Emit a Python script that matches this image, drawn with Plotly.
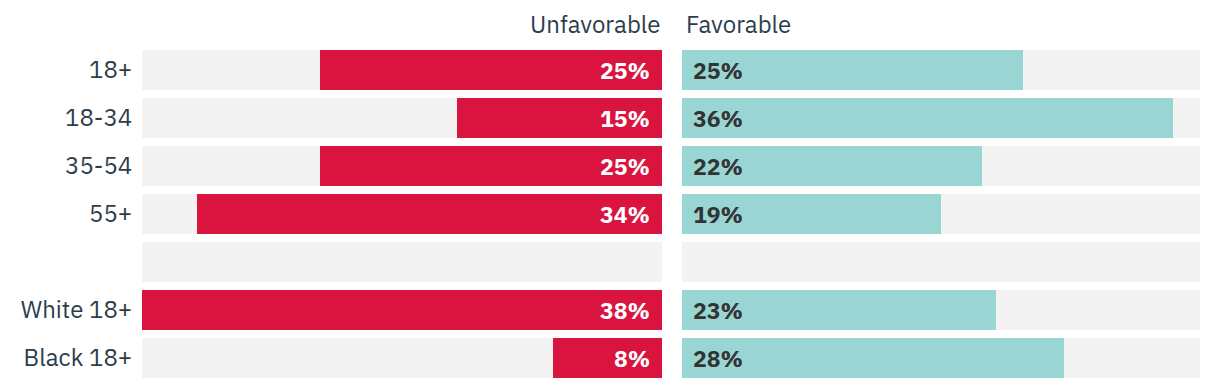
import plotly.graph_objects as go

categories = ["18+", "18-34", "35-54", "55+", "", "White 18+", "Black 18+"]
unfavorable = [25, 15, 25, 34, None, 38, 8]
favorable = [25, 36, 22, 19, None, 23, 28]
scale_max = 38

FONT = "IBM Plex Sans, Noto Sans, sans-serif"
RED = "#d8143f"
TEAL = "#98d5d3"
GREY = "#f3f3f3"
TEXT = "#2c3e4c"

ypos = list(range(len(categories)))
fig = go.Figure()

# background bars
for xa in ["x", "x2"]:
    fig.add_trace(go.Bar(y=ypos, x=[scale_max] * len(ypos), orientation="h",
                         marker=dict(color=GREY, line_width=0), width=40 / 48,
                         xaxis=xa, yaxis="y", hoverinfo="skip", showlegend=False))

fig.add_trace(go.Bar(y=ypos, x=unfavorable, orientation="h", width=40 / 48,
                     marker=dict(color=RED, line_width=0), xaxis="x", yaxis="y",
                     showlegend=False, name="Unfavorable"))
fig.add_trace(go.Bar(y=ypos, x=favorable, orientation="h", width=40 / 48,
                     marker=dict(color=TEAL, line_width=0), xaxis="x2", yaxis="y",
                     showlegend=False, name="Favorable"))

annotations = []
for y, u, f in zip(ypos, unfavorable, favorable):
    if u is not None:
        annotations.append(dict(x=0, y=y, xref="x", yref="y", text=f"<b>{u}%</b>",
                                xanchor="right", yanchor="middle", xshift=-10, showarrow=False,
                                font=dict(family=FONT, size=23, color="white")))
    if f is not None:
        annotations.append(dict(x=0, y=y, xref="x2", yref="y", text=f"<b>{f}%</b>",
                                xanchor="left", yanchor="middle", xshift=9, showarrow=False,
                                font=dict(family=FONT, size=23, color="#333333")))

annotations.append(dict(x=663 / 1220, y=1, xref="paper", yref="paper", text="Unfavorable",
                        xanchor="right", yanchor="bottom", yshift=4, showarrow=False,
                        font=dict(family=FONT, size=24, color=TEXT)))
annotations.append(dict(x=684 / 1220, y=1, xref="paper", yref="paper", text="Favorable",
                        xanchor="left", yanchor="bottom", yshift=4, showarrow=False,
                        font=dict(family=FONT, size=24, color=TEXT)))

fig.update_layout(
    width=1220, height=388,
    margin=dict(l=0, r=0, t=46, b=6),
    paper_bgcolor="white", plot_bgcolor="white",
    barmode="overlay", bargap=0,
    annotations=annotations,
    xaxis=dict(domain=[142 / 1220, 662 / 1220], range=[scale_max, 0], visible=False, fixedrange=True),
    xaxis2=dict(domain=[682 / 1220, 1200 / 1220], range=[0, scale_max], visible=False, fixedrange=True),
    yaxis=dict(range=[len(categories) - 0.5, -0.5], tickvals=ypos, ticktext=categories,
               showgrid=False, zeroline=False, showline=False,
               ticks="outside", ticklen=4, tickcolor="rgba(0,0,0,0)",
               tickfont=dict(family=FONT, size=24, color=TEXT), fixedrange=True),
    font=dict(family=FONT),
)

fig.write_html("out.html", config={"displayModeBar": False},
               post_script="document.body.style.margin='0px';")
